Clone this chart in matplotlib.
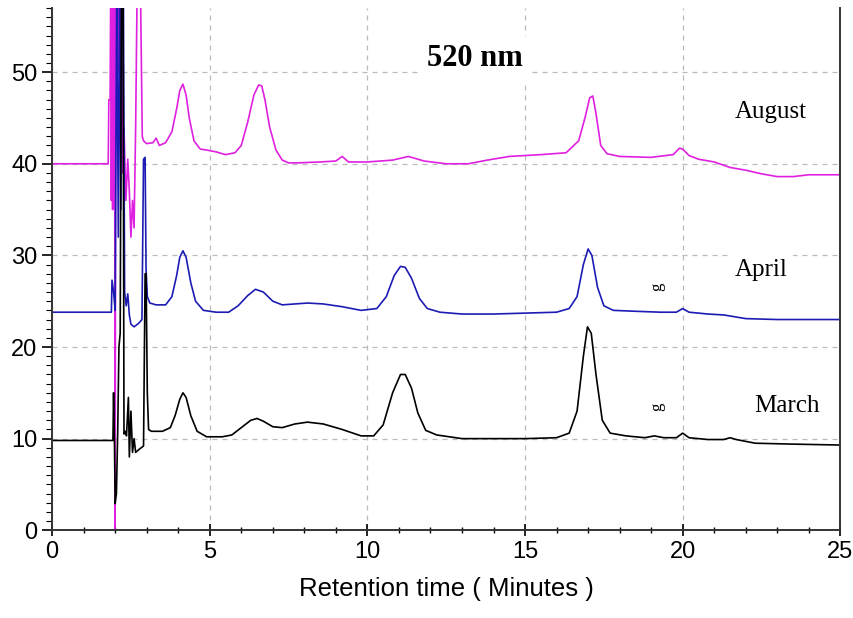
import numpy as np
import matplotlib
matplotlib.use("Agg")
import matplotlib.pyplot as plt
from matplotlib.ticker import MultipleLocator

# chromatogram traces: (retention time, signal)
august = [(0, 40), (1.78, 40), (1.80, 47), (1.84, 47), (1.86, 60), (1.88, 36),
          (1.90, 60), (1.92, 35), (1.94, 60), (1.96, 38), (1.98, 60), (2.00, 0),
          (2.02, 60), (2.05, 45), (2.08, 60), (2.11, 50), (2.14, 60), (2.17, 48),
          (2.20, 60), (2.24, 39), (2.28, 44), (2.34, 36), (2.40, 40.5), (2.45, 37),
          (2.50, 32), (2.55, 36), (2.60, 33), (2.65, 44), (2.70, 60), (2.80, 60),
          (2.86, 43), (2.90, 42.5),
          (3.0, 42.2), (3.2, 42.3), (3.3, 42.8), (3.4, 42.0), (3.6, 42.3), (3.8, 43.5),
          (3.95, 46), (4.05, 48), (4.15, 48.7), (4.25, 47.5), (4.35, 45), (4.5, 42.5),
          (4.7, 41.6), (4.9, 41.5), (5.2, 41.3), (5.5, 41.0), (5.8, 41.2), (6.0, 42),
          (6.2, 44.5), (6.4, 47.5), (6.55, 48.6), (6.65, 48.5), (6.75, 47), (6.9, 44),
          (7.1, 41.5), (7.3, 40.4), (7.5, 40.1), (7.8, 40.1), (8.5, 40.2), (9.0, 40.3),
          (9.2, 40.8), (9.4, 40.2), (10, 40.2), (10.8, 40.4), (11.3, 40.8), (11.8, 40.3),
          (12.5, 40.0), (13.2, 40.0), (13.8, 40.4), (14.5, 40.8), (15.5, 41.0), (16.3, 41.2),
          (16.7, 42.5), (16.9, 45), (17.05, 47.2), (17.15, 47.4), (17.25, 45.5), (17.4, 42),
          (17.6, 41.1), (18, 40.8), (19, 40.7), (19.7, 41.0), (19.9, 41.7), (20.0, 41.6),
          (20.2, 40.9), (20.5, 40.5), (21, 40.2), (21.5, 39.6), (22, 39.3), (22.5, 38.9),
          (23, 38.6), (23.5, 38.6), (24, 38.8), (25, 38.8)]

april = [(0, 23.8), (1.88, 23.8), (1.90, 27.3), (1.95, 26), (2.0, 24), (2.05, 60),
         (2.10, 32), (2.14, 60), (2.18, 35), (2.22, 60), (2.26, 60), (2.30, 26),
         (2.35, 24.5), (2.40, 25.8),
         (2.45, 23.5), (2.5, 22.5), (2.6, 22.2), (2.75, 22.6), (2.85, 23), (2.90, 40.5),
         (2.95, 40.7), (2.98, 28.5), (3.02, 25.5), (3.1, 24.8), (3.3, 24.6), (3.6, 24.6),
         (3.8, 25.5), (3.95, 27.8), (4.05, 29.8), (4.15, 30.5), (4.25, 29.8), (4.4, 27),
         (4.55, 25), (4.8, 24.0), (5.2, 23.8), (5.6, 23.8), (5.9, 24.5), (6.2, 25.6),
         (6.45, 26.3), (6.7, 26.0), (7.0, 25.0), (7.3, 24.6), (7.7, 24.7), (8.1, 24.8),
         (8.6, 24.7), (9.2, 24.4), (9.8, 24.0), (10.3, 24.2), (10.6, 25.5), (10.85, 27.8),
         (11.05, 28.8), (11.2, 28.7), (11.4, 27.5), (11.65, 25.3), (11.9, 24.2), (12.3, 23.8),
         (13, 23.6), (14, 23.6), (15, 23.7), (16, 23.8), (16.4, 24.2), (16.65, 25.5),
         (16.85, 29), (17.0, 30.7), (17.12, 30), (17.3, 26.5), (17.5, 24.5), (17.8, 24),
         (18.5, 23.9), (19.3, 23.8), (19.8, 23.8), (20.0, 24.2), (20.2, 23.8), (20.8, 23.6),
         (21.3, 23.5), (22, 23.1), (23, 23.0), (25, 23.0)]

march = [(0, 9.8), (1.93, 9.8), (1.95, 15), (1.98, 9), (2.0, 2.9), (2.04, 4),
         (2.08, 10.5), (2.12, 20), (2.16, 21.5), (2.20, 60), (2.25, 60), (2.28, 10.5),
         (2.32, 10.8), (2.36, 10.3), (2.42, 14.5), (2.45, 8), (2.5, 13), (2.55, 8.5),
         (2.6, 10), (2.65, 8.5), (2.75, 8.8), (2.9, 9.2), (2.95, 28), (2.98, 28),
         (3.02, 15), (3.06, 11), (3.15, 10.8), (3.5, 10.8), (3.75, 11.2), (3.9, 12.5),
         (4.05, 14.3), (4.15, 15), (4.25, 14.5), (4.4, 12.5), (4.6, 10.8), (4.9, 10.2),
         (5.4, 10.2), (5.7, 10.4), (6.0, 11.2), (6.3, 12.0), (6.5, 12.2), (6.7, 11.9),
         (7.0, 11.3), (7.3, 11.2), (7.7, 11.6), (8.1, 11.8), (8.6, 11.6), (9.2, 11.0),
         (9.8, 10.3), (10.2, 10.3), (10.5, 11.5), (10.8, 15.0), (11.05, 17.0), (11.2, 17.0),
         (11.4, 15.5), (11.6, 12.8), (11.85, 10.9), (12.2, 10.4), (13, 10.0), (14, 10.0),
         (15, 10.0), (16, 10.1), (16.4, 10.6), (16.65, 13), (16.85, 19), (16.98, 22.2),
         (17.1, 21.5), (17.25, 17), (17.45, 12), (17.7, 10.6), (18.2, 10.3), (18.8, 10.1),
         (19.1, 10.3), (19.4, 10.1), (19.8, 10.1), (20.0, 10.6), (20.2, 10.1), (20.8, 9.9),
         (21.3, 9.9), (21.5, 10.1), (21.7, 9.9), (22.3, 9.5), (23.5, 9.4), (25, 9.3)]

series_names = ["August", "April", "March"]
series_colors = ["#e020e0", "#1c1cb4", "black"]
# label anchor points (time, signal)
label_pos = [(22.8, 45.6), (22.5, 28.4), (23.3, 13.6)]


def main():
    fig = plt.figure(figsize=(8.54, 6.18), dpi=100)
    ax = fig.add_axes([0.061, 0.142, 0.923, 0.845])

    for data, col in zip([august, april, march], series_colors):
        d = np.array(data)
        ax.plot(d[:, 0], d[:, 1], color=col, lw=1.2)

    ax.set_xlim(0, 25)
    ax.set_ylim(0, 57)
    ax.xaxis.set_major_locator(MultipleLocator(5))
    ax.xaxis.set_minor_locator(MultipleLocator(1))
    ax.yaxis.set_major_locator(MultipleLocator(10))
    ax.yaxis.set_minor_locator(MultipleLocator(1))
    ax.grid(True, which="major", ls=(0, (4, 4)), color="#bbbbbb", lw=0.9)
    ax.spines["top"].set_visible(False)
    for s in ["left", "bottom", "right"]:
        ax.spines[s].set_linewidth(1.4)
        ax.spines[s].set_color("#333333")
    ax.tick_params(axis="x", which="major", direction="inout", length=9, width=1.2, labelsize=17)
    ax.tick_params(axis="x", which="minor", direction="inout", length=5, width=1)
    ax.tick_params(axis="y", which="major", direction="out", length=7, width=1.2, labelsize=17)
    ax.tick_params(axis="y", which="minor", direction="out", length=4, width=0.8)
    for lab in ax.get_xticklabels() + ax.get_yticklabels():
        lab.set_fontfamily("Liberation Sans")

    ax.set_xlabel("Retention time ( Minutes )", fontsize=18.5, family="Liberation Sans", labelpad=10)

    ax.text(13.42, 51.5, "520 nm", fontsize=22, weight="bold", family="Liberation Serif",
            ha="center", va="center", bbox=dict(facecolor="white", edgecolor="none", pad=6))
    for name, (x, y) in zip(series_names, label_pos):
        ax.text(x, y, name, fontsize=18, family="Liberation Serif", ha="center", va="center",
                bbox=dict(facecolor="white", edgecolor="none", pad=4))
    ax.text(19.2, 26.6, "g", fontsize=12, family="Liberation Serif", rotation=90,
            ha="center", va="center")
    ax.text(19.2, 13.5, "g", fontsize=12, family="Liberation Serif", rotation=90,
            ha="center", va="center")

    fig.savefig("out.png", dpi=100)


if __name__ == "__main__":
    main()
